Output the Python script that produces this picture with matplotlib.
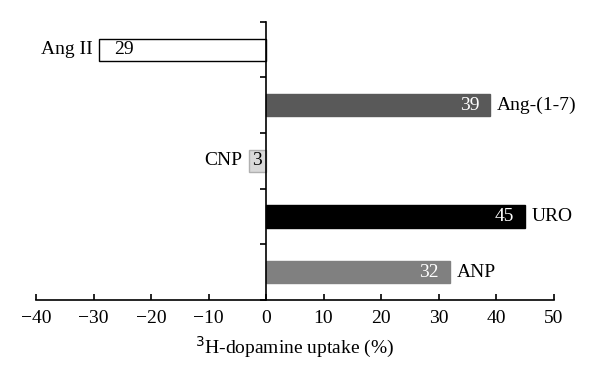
import matplotlib.pyplot as plt

# data (top to bottom)
labels = ['Ang II', 'Ang-(1-7)', 'CNP', 'URO', 'ANP']
values = [-29, 39, -3, 45, 32]
colors = ['white', '#595959', '#d9d9d9', 'black', '#808080']
edges = ['black', '#595959', '#b0b0b0', 'black', '#808080']
num_colors = ['black', 'white', 'black', 'white', 'white']

plt.rcParams['font.family'] = ['Liberation Serif', 'DejaVu Serif']
plt.rcParams['font.size'] = 14

fig = plt.figure(figsize=(6, 3.84), dpi=100)
ax = fig.add_axes([0.06, 0.219, 0.8625, 0.724])

pos = [4.5 - i for i in range(len(labels))]
ax.barh(pos, values, height=0.4, color=colors, edgecolor=edges, linewidth=1)

for y, v, lab, nc in zip(pos, values, labels, num_colors):
    if v >= 0:
        ax.annotate(lab, (v, y), xytext=(5, 0), textcoords='offset points',
                    ha='left', va='center')
        ax.annotate(str(abs(v)), (v, y), xytext=(-8, 0), textcoords='offset points',
                    ha='right', va='center', color=nc)
    else:
        ax.annotate(lab, (v, y), xytext=(-5, 0), textcoords='offset points',
                    ha='right', va='center')
        if abs(v) > 5:
            ax.annotate(str(abs(v)), (v, y), xytext=(11, 0), textcoords='offset points',
                        ha='left', va='center', color=nc)
        else:
            ax.text(v / 2, y, str(abs(v)), ha='center', va='center', color=nc)

ax.set_xlim(-40, 50)
ax.set_ylim(0, 5)
ax.set_xticks(range(-40, 51, 10))
ax.set_xticklabels(['\u2212%d' % -t if t < 0 else str(t) for t in range(-40, 51, 10)])
ax.set_yticks(range(0, 6))
ax.set_yticklabels([])

ax.spines['top'].set_visible(False)
ax.spines['right'].set_visible(False)
ax.spines['left'].set_position(('data', 0))
ax.spines['left'].set_linewidth(1.2)
ax.spines['bottom'].set_linewidth(1.2)
ax.tick_params(axis='x', direction='in', length=4, width=1.2, pad=7)
ax.tick_params(axis='y', direction='out', length=4, width=1.2)

ax.set_xlabel('$^{3}$H-dopamine uptake (%)', labelpad=6)

fig.savefig('out.png', dpi=100)
